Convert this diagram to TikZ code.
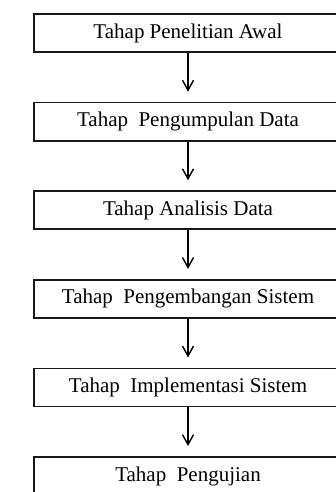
\documentclass[tikz,border=0pt]{standalone}
\usepackage{fontspec}
\setmainfont{Liberation Serif}
\usetikzlibrary{arrows.meta}

\begin{document}
\begin{tikzpicture}
\tikzset{
tahap/.style={rectangle,draw=black!90,line width=1.8pt,minimum width=308pt,minimum height=38pt,inner sep=0pt,font=\fontsize{21}{25}\selectfont,node distance=88.6pt},
myarrow/.style={-{Straight Barb[length=10pt,width=11pt,line width=1.4pt]}, line width=1.4pt, shorten >=10pt},
}
\useasboundingbox (0,0) rectangle (336pt,-492pt);
\clip (0,0) rectangle (336pt,-492pt);

\node [tahap] (awal) at (188pt,-33pt) {Tahap Penelitian Awal};
\node [tahap, below of=awal] (pengumpulan) {Tahap~ Pengumpulan Data};
\node [tahap, below of=pengumpulan] (analisis) {Tahap Analisis Data};
\node [tahap, below of=analisis] (pengembangan) {Tahap~ Pengembangan Sistem};
\node [tahap, below of=pengembangan] (implementasi) {Tahap~ Implementasi Sistem};
\node [tahap, below of=implementasi] (pengujian) {Tahap~ Pengujian};
\draw[myarrow] (awal) -- (pengumpulan);
\draw[myarrow] (pengumpulan) -- (analisis);
\draw[myarrow] (analisis) -- (pengembangan);
\draw[myarrow] (pengembangan) -- (implementasi);
\draw[myarrow] (implementasi) -- (pengujian);
\end{tikzpicture}
\end{document}
